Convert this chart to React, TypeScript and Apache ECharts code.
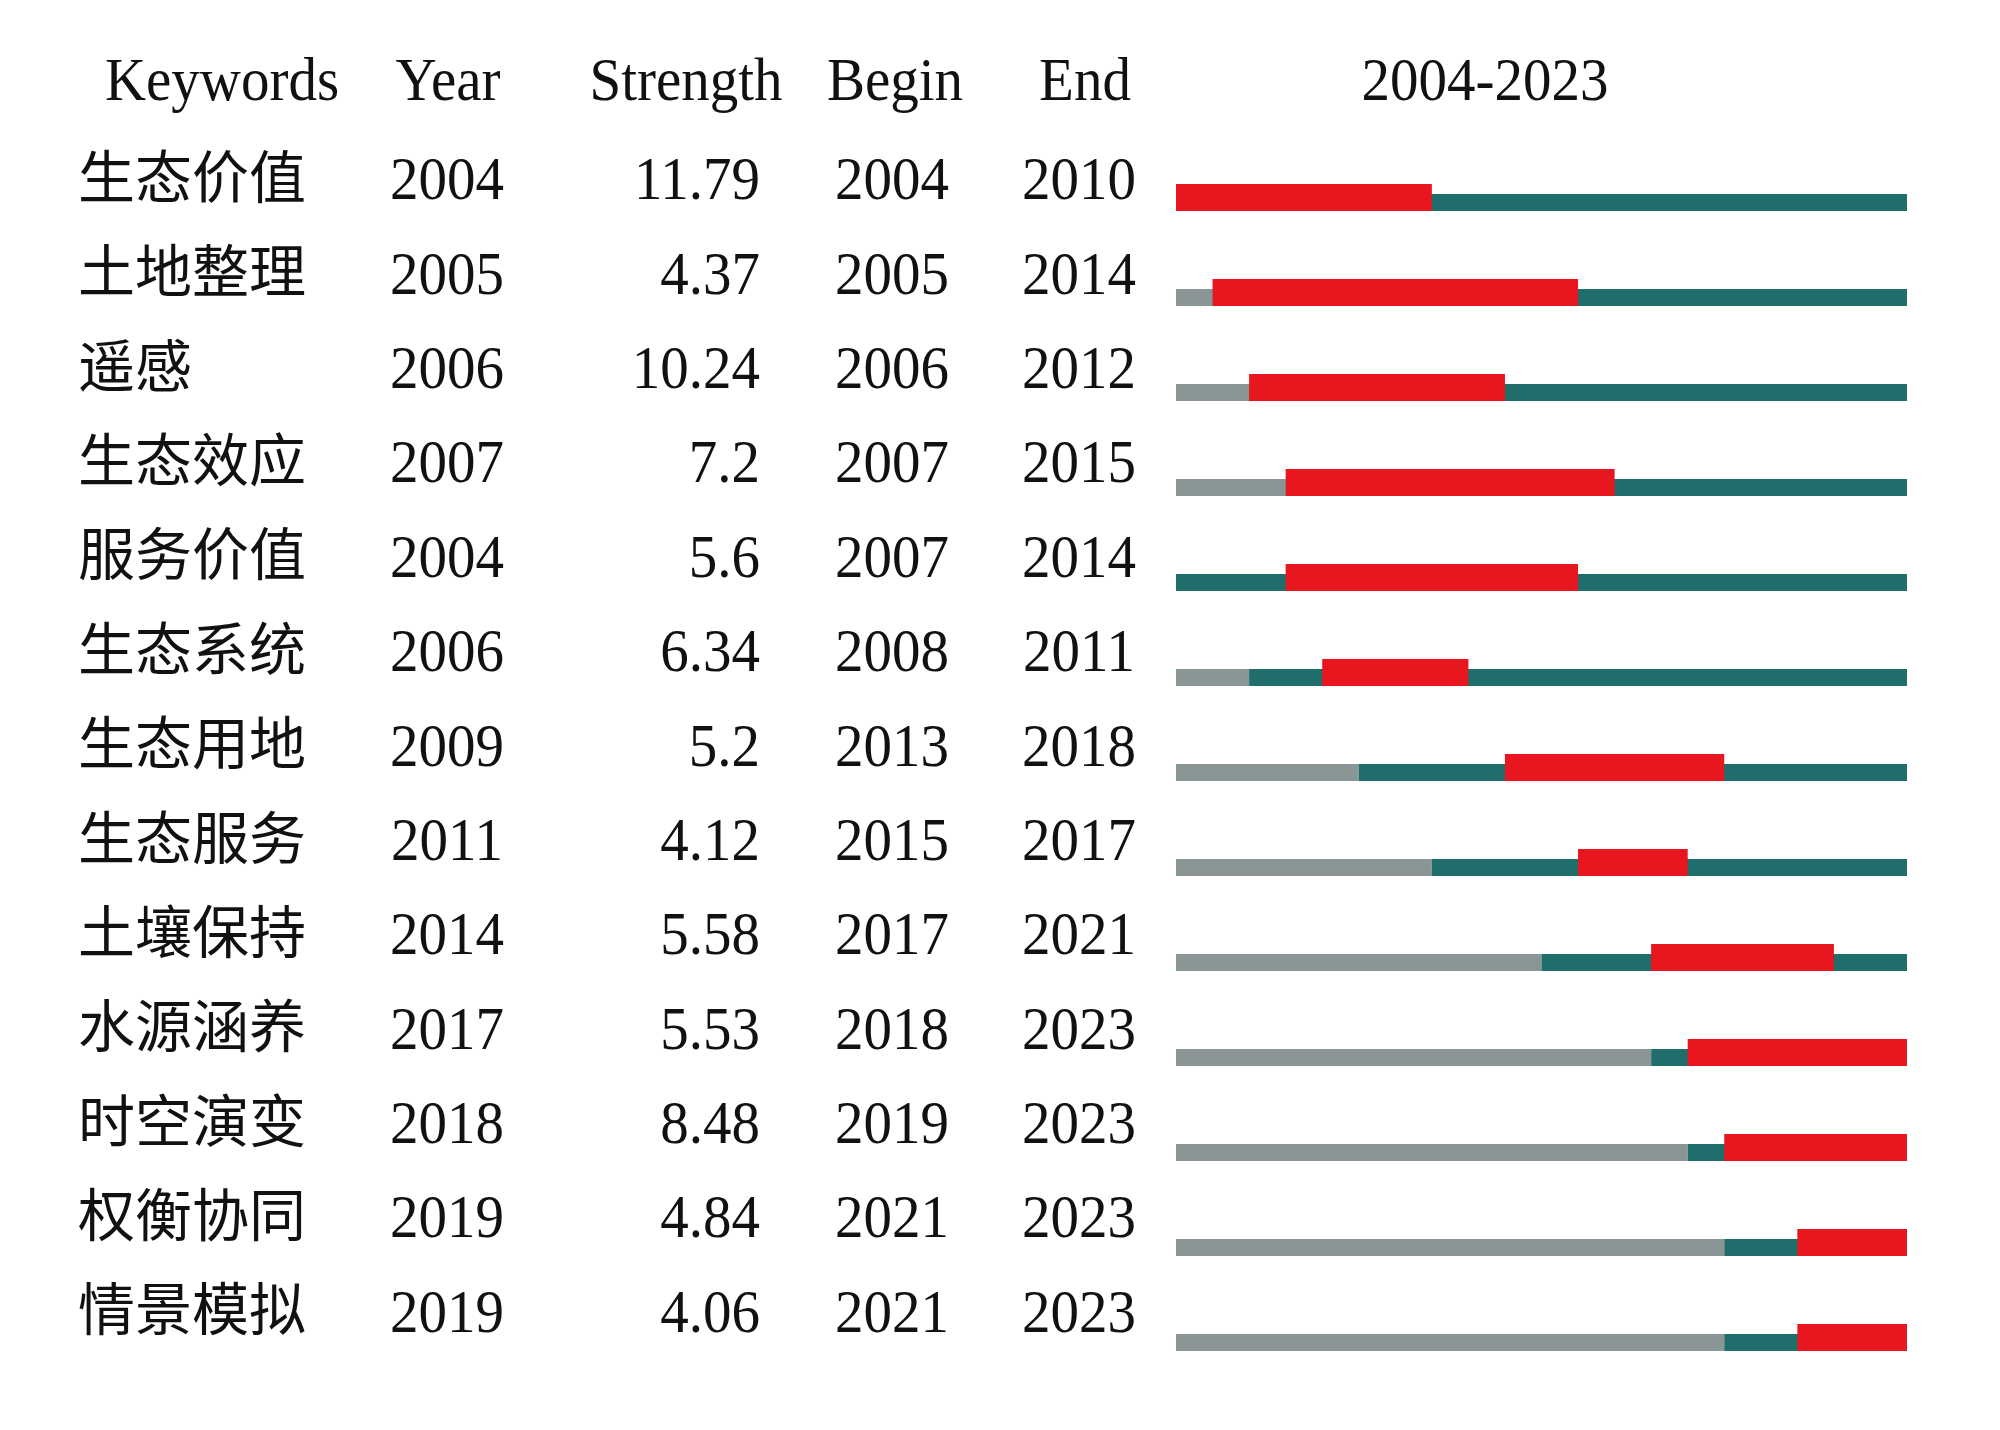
import React, { useEffect, useRef } from "react";
import * as echarts from "echarts";

const headers = ["Keywords", "Year", "Strength", "Begin", "End", "2004-2023"];
const keywords = ["生态价值", "土地整理", "遥感", "生态效应", "服务价值", "生态系统", "生态用地", "生态服务", "土壤保持", "水源涵养", "时空演变", "权衡协同", "情景模拟"];
const years = [2004, 2005, 2006, 2007, 2004, 2006, 2009, 2011, 2014, 2017, 2018, 2019, 2019];
const strengths = [11.79, 4.37, 10.24, 7.2, 5.6, 6.34, 5.2, 4.12, 5.58, 5.53, 8.48, 4.84, 4.06];
const begins = [2004, 2005, 2006, 2007, 2007, 2008, 2013, 2015, 2017, 2018, 2019, 2021, 2021];
const ends = [2010, 2014, 2012, 2015, 2014, 2011, 2018, 2017, 2021, 2023, 2023, 2023, 2023];
const rangeStart = 2004;
const rangeEnd = 2023;

const RED = "#e8161e";
const TEAL = "#1f6e6c";
const GRAY = "#8a9696";
const FONT = '"Liberation Serif", "Times New Roman", "Noto Sans CJK SC", serif';
const LATIN_SIZE = 57;
const CJK_SIZE = 57;
const STRETCH = 1.09;

export default function App() {
  const ref = useRef<HTMLDivElement>(null);
  useEffect(() => {
    if (!ref.current) return;
    const chart = echarts.init(ref.current, null, { renderer: "svg" });
    const data = keywords.map((k, i) => [i, years[i], strengths[i], begins[i], ends[i]]);

    const latin = (text: string, x: number, y: number, align: string) => ({
      type: "text",
      x,
      y,
      scaleY: STRETCH,
      style: { text, x: 0, y: 0, fontSize: LATIN_SIZE, fontFamily: FONT, fill: "#111", align, verticalAlign: "middle" },
      silent: true,
    });

    const renderItem = (params: any, api: any) => {
      const idx = api.value(0);
      const year = api.value(1);
      const strength = api.value(2);
      const begin = api.value(3);
      const end = api.value(4);
      const xAt = (v: number) => api.coord([v, idx])[0];
      const yc = api.coord([rangeStart, idx])[1];
      const ty = yc - 2.5 - 0.64 * idx;
      const bottom = yc + 30;
      const thin = 17;
      const thick = 27;
      const children: any[] = [];
      if (year > rangeStart) {
        children.push({
          type: "rect",
          shape: { x: xAt(rangeStart), y: bottom - thin, width: xAt(year) - xAt(rangeStart), height: thin },
          style: { fill: GRAY },
        });
      }
      children.push({
        type: "rect",
        shape: { x: xAt(year), y: bottom - thin, width: xAt(rangeEnd + 1) - xAt(year), height: thin },
        style: { fill: TEAL },
      });
      children.push({
        type: "rect",
        shape: { x: xAt(begin), y: bottom - thick, width: xAt(end + 1) - xAt(begin), height: thick },
        style: { fill: RED },
      });
      children.push({
        type: "text",
        x: 78,
        y: ty,
        style: { text: keywords[idx], x: 0, y: 0, fontSize: CJK_SIZE, fontFamily: FONT, fill: "#111", align: "left", verticalAlign: "middle" },
      });
      children.push(latin(String(year), 447, ty, "center"));
      children.push(latin(String(strength), 760, ty, "right"));
      children.push(latin(String(begin), 892, ty, "center"));
      children.push(latin(String(end), 1079, ty, "center"));
      return { type: "group", children };
    };

    const headerX = [222, 448, 686, 895, 1085, 1485];
    chart.setOption({
      animation: false,
      backgroundColor: "#ffffff",
      grid: { left: 1176, right: 2000 - 1907, top: 133.5, height: 95 * keywords.length },
      xAxis: { type: "value", min: rangeStart, max: rangeEnd + 1, show: false },
      yAxis: { type: "category", data: keywords, inverse: true, show: false },
      graphic: headers.map((h, i) => latin(h, headerX[i], 79, "center")),
      series: [
        {
          type: "custom",
          renderItem,
          clip: false,
          encode: { x: [1, 3, 4], y: 0 },
          data,
        },
      ],
    });
    return () => chart.dispose();
  }, []);
  return <div ref={ref} style={{ position: "fixed", left: 0, top: 0, width: 2000, height: 1430 }} />;
}
